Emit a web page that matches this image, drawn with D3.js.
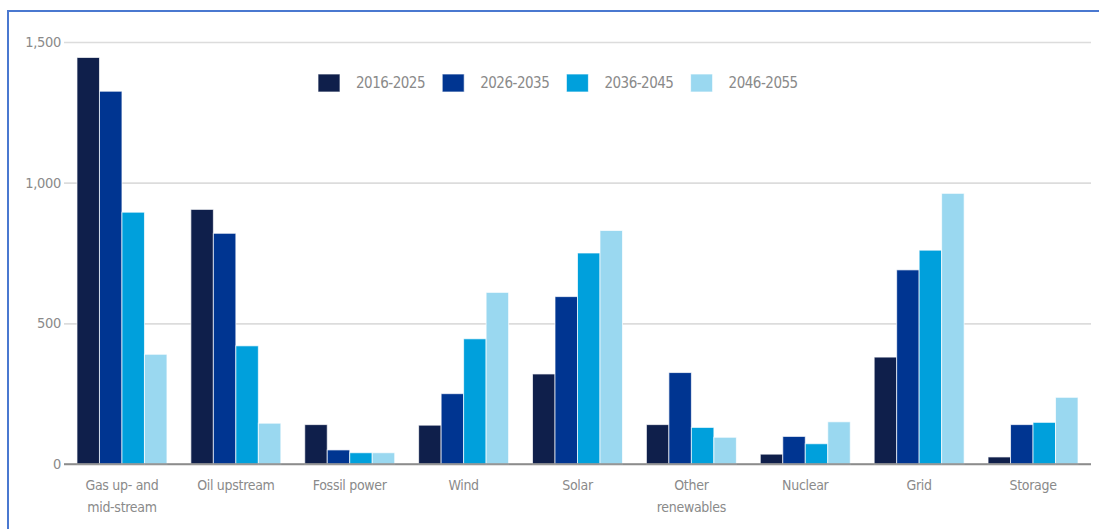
<!DOCTYPE html>
<html>
<head>
<meta charset="utf-8">
<script src="https://cdn.jsdelivr.net/npm/d3@7"></script>
<style>
  html, body { margin: 0; padding: 0; background: #fff; }
  svg { display: block; }
  text { font-family: "Liberation Sans Narrow", "DejaVu Sans Condensed", "Roboto", sans-serif; fill: #8a8a8a; }
</style>
</head>
<body>
<svg id="chart" width="1099" height="529"></svg>
<script>
// Investment by sector and decade
const categories = ["Gas up- and\nmid-stream", "Oil upstream", "Fossil power", "Wind", "Solar",
                    "Other\nrenewables", "Nuclear", "Grid", "Storage"];
const periods = ["2016-2025", "2026-2035", "2036-2045", "2046-2055"];
const values2016 = [1445, 905, 140, 138, 320, 140, 35, 380, 25];
const values2026 = [1325, 820, 50, 250, 595, 325, 98, 690, 140];
const values2036 = [895, 420, 40, 445, 750, 130, 72, 760, 148];
const values2046 = [390, 145, 40, 610, 830, 95, 150, 962, 237];
const yTicks = [0, 500, 1000, 1500];
const colors = ["#0f1f4b", "#003591", "#00a0dc", "#9ad8f0"];

const series = [values2016, values2026, values2036, values2046];

const svg = d3.select("#chart");

// frame edges
svg.append("line").attr("x1", 8).attr("x2", 1099).attr("y1", 11).attr("y2", 11)
  .attr("stroke", "#4a78d0").attr("stroke-width", 2);
svg.append("line").attr("x1", 8).attr("x2", 8).attr("y1", 10).attr("y2", 529)
  .attr("stroke", "#4a78d0").attr("stroke-width", 2);

const left = 64, right = 1091;
const y = d3.scaleLinear().domain([0, 1500]).range([464, 42]);
const x = d3.scaleBand().domain(categories).range([left, right])
  .paddingInner(0.21).paddingOuter(0.114);
const xs = d3.scaleBand().domain(periods).range([0, x.bandwidth()]);
const color = d3.scaleOrdinal().domain(periods).range(colors);

// gridlines and y labels
const yAxis = d3.axisLeft(y).tickValues(yTicks).tickSize(-(right - left))
  .tickFormat(d3.format(","));
const gy = svg.append("g").attr("transform", `translate(${left},0)`).call(yAxis);
gy.select(".domain").remove();
gy.selectAll(".tick line").attr("stroke", d => d === 0 ? "#8c8c8c" : "#dcdcdc")
  .attr("stroke-width", 1.6);
gy.selectAll(".tick text").attr("x", -3).attr("font-size", 14.5)
  .attr("letter-spacing", -0.3).attr("fill", "#8a8a8a");

// bars
const groups = svg.append("g").selectAll("g").data(categories).join("g")
  .attr("transform", d => `translate(${x(d)},0)`);
groups.selectAll("rect")
  .data((d, i) => periods.map((p, j) => ({ p, v: series[j][i] })))
  .join("rect")
  .attr("x", d => xs(d.p))
  .attr("width", xs.bandwidth())
  .attr("y", d => y(d.v))
  .attr("height", d => y(0) - y(d.v))
  .attr("fill", d => color(d.p))
  .attr("stroke", "rgba(255,255,255,0.7)")
  .attr("stroke-width", 1);

// redraw baseline on top of bars
svg.append("line").attr("x1", left).attr("x2", right).attr("y1", y(0)).attr("y2", y(0))
  .attr("stroke", "#8c8c8c").attr("stroke-width", 1.6);

// category labels
const lab = svg.append("g").selectAll("text").data(categories).join("text")
  .attr("text-anchor", "middle")
  .attr("font-size", 14)
  .attr("letter-spacing", -0.3)
  .attr("x", d => x(d) + x.bandwidth() / 2)
  .attr("y", 490);
lab.selectAll("tspan").data(d => d.split("\n")).join("tspan")
  .attr("x", function () { return d3.select(this.parentNode).attr("x"); })
  .attr("dy", (d, i) => i === 0 ? 0 : 21.5)
  .text(d => d);

// legend
const legend = svg.append("g").selectAll("g").data(periods).join("g")
  .attr("transform", (d, i) => `translate(${318 + i * 124.2},74)`);
legend.append("rect").attr("width", 22).attr("height", 18)
  .attr("fill", d => color(d)).attr("stroke", "rgba(255,255,255,0.7)");
legend.append("text").attr("x", 38).attr("y", 9).attr("dy", "0.35em")
  .attr("font-size", 15).attr("letter-spacing", -0.5).text(d => d);
</script>
</body>
</html>
